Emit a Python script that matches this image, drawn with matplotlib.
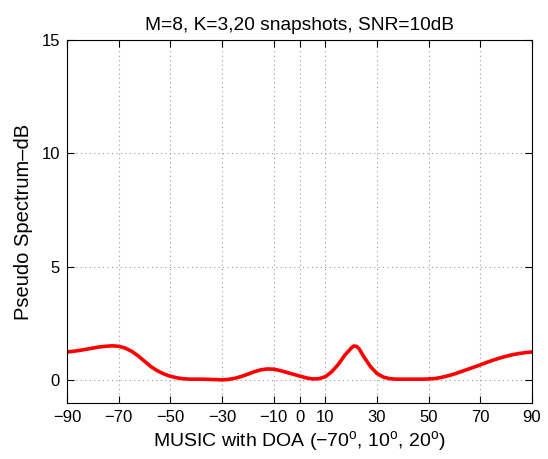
import matplotlib
matplotlib.use("Agg")
import matplotlib.pyplot as plt

angles = [-90, -87.5, -85, -82.5, -80, -77.5, -75, -72.5, -70, -67.5, -65, -62.5, -60, -57.5,
          -55, -52.5, -50, -47.5, -45, -42.5, -40, -37.5, -35, -32.5, -30, -27.5, -25, -22.5,
          -20, -17.5, -15, -12.5, -10, -7.5, -5, -2.5, 0, 2.5, 5, 7.5, 10, 12.5, 15, 17.5,
          20, 21, 22, 23, 25, 27.5, 30, 32.5, 35, 37.5, 40, 42.5, 45, 47.5, 50, 52.5, 55, 57.5,
          60, 62.5, 65, 67.5, 70, 72.5, 75, 77.5, 80, 82.5, 85, 87.5, 90]
spectrum_db = [1.25, 1.28, 1.32, 1.37, 1.42, 1.47, 1.50, 1.52, 1.50, 1.42, 1.28, 1.08, 0.84,
               0.60, 0.42, 0.28, 0.18, 0.11, 0.07, 0.05, 0.05, 0.05, 0.04, 0.03, 0.02, 0.04,
               0.09, 0.17, 0.27, 0.38, 0.46, 0.50, 0.49, 0.43, 0.35, 0.27, 0.19, 0.11, 0.06,
               0.07, 0.16, 0.38, 0.70, 1.10, 1.42, 1.51, 1.50, 1.40, 1.02, 0.60, 0.30, 0.14,
               0.07, 0.05, 0.05, 0.05, 0.05, 0.05, 0.06, 0.08, 0.13, 0.20, 0.28, 0.38, 0.48,
               0.58, 0.68, 0.79, 0.89, 0.98, 1.06, 1.13, 1.18, 1.22, 1.25]
xticks = [-90, -70, -50, -30, -10, 0, 10, 30, 50, 70, 90]
yticks = [0, 5, 10, 15]

plt.rcParams['font.family'] = ['Liberation Sans', 'DejaVu Sans']
plt.rcParams['mathtext.fontset'] = 'custom'
plt.rcParams['mathtext.rm'] = 'Liberation Sans'
fig = plt.figure(figsize=(5.48, 4.59), dpi=100)
ax = fig.add_axes([0.1223, 0.122, 0.8485, 0.791])
ax.plot(angles, spectrum_db, color='#ff0000', lw=2.6, solid_capstyle='round',
        solid_joinstyle='round')
ax.set_xlim(-90, 90)
ax.set_ylim(-1, 15)
ax.set_xticks(xticks)
ax.set_yticks(yticks)
ax.grid(True, linestyle=(0, (1, 3)), color='#999999', lw=0.8)
ax.tick_params(direction='in', top=True, right=True, labelsize=12, length=5, pad=5)
for s in ax.spines.values():
    s.set_linewidth(0.8)
ax.set_title('M=8, K=3,20 snapshots, SNR=10dB', fontsize=13.8, pad=7)
ax.set_xlabel(r'MUSIC with DOA ($-70^{\mathrm{o}}$, $10^{\mathrm{o}}$, $20^{\mathrm{o}}$)',
              fontsize=14, labelpad=3)
ax.set_ylabel('Pseudo Spectrum\u2013dB', fontsize=14.5, labelpad=6)
fig.savefig('out.png', dpi=100)
